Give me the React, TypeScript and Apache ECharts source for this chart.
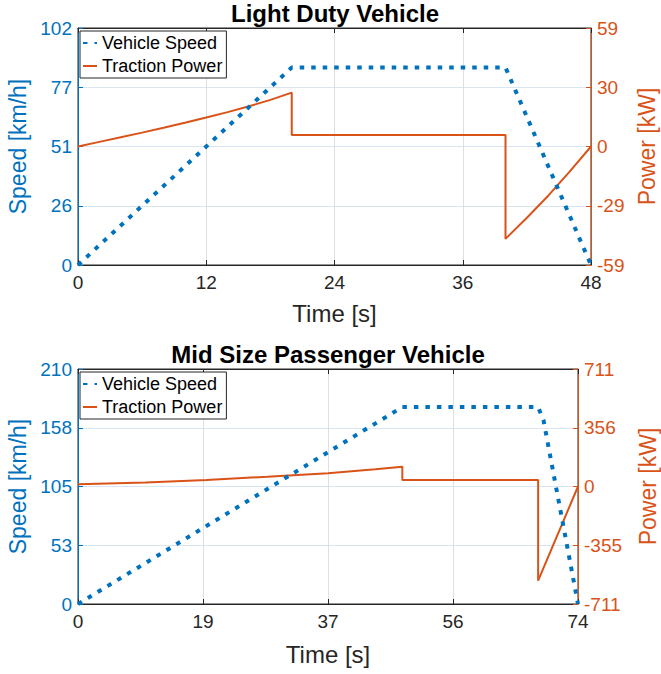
import React, { useEffect, useRef } from "react";
import * as echarts from "echarts";

// ---- Light Duty Vehicle ----
const ldSpeedTime = [0, 20, 40, 48];
const ldSpeedKmh = [0, 85, 85, 0];
const ldPowerTime = [0, 2, 4, 6, 8, 10, 12, 14, 16, 18, 20, 20, 40, 40, 42, 44, 46, 48];
const ldPowerKw = [0, 2.3, 4.6, 6.9, 9.3, 11.8, 14.4, 17.1, 20.0, 23.2, 26.8, 5.7, 5.7, -46, -35.5, -24.5, -12.5, 0];
const ldTimeTicks = ["0", "12", "24", "36", "48"];
const ldSpeedTicks = ["0", "26", "51", "77", "102"];
const ldPowerTicks = ["-59", "-29", "0", "30", "59"];

// ---- Mid Size Passenger Vehicle ----
const msSpeedTime = [0, 48, 68.1, 68.9, 74];
const msSpeedKmh = [0, 176, 176, 164, 0];
const msPowerTime = [0, 10, 19, 28, 37, 44, 48, 48, 68.1, 68.1, 74];
const msPowerKw = [13, 24, 39, 59, 80, 104, 120, 40, 40, -570, 0];
const msTimeTicks = ["0", "19", "37", "56", "74"];
const msSpeedTicks = ["0", "53", "105", "158", "210"];
const msPowerTicks = ["-711", "-355", "0", "356", "711"];

const BLUE = "#0072BD";
const ORANGE = "#D95319";
const DARK = "#262626";
const FONT = "'Liberation Sans', Arial, Helvetica, sans-serif";

const pairs = (t: number[], v: number[]) => t.map((x, i) => [x, v[i]]);
const lookup = (ticks: string[], min: number, step: number) => (v: number) =>
  ticks[Math.round((v - min) / step)] ?? "";

export default function App() {
  const ref = useRef<HTMLDivElement>(null);
  useEffect(() => {
    if (!ref.current) return;
    const chart = echarts.init(ref.current, null, { renderer: "svg" });

    const xBottom = (grid: number, max: number, step: number, ticks: string[], gap: number) => ({
      type: "value",
      gridIndex: grid,
      position: "bottom",
      min: 0,
      max,
      interval: step,
      name: "Time [s]",
      nameLocation: "middle",
      nameGap: gap,
      nameTextStyle: { fontSize: 24, color: DARK, fontFamily: FONT },
      axisLine: { show: true, onZero: false, lineStyle: { color: DARK, width: 1 } },
      axisTick: { show: true, inside: true, length: 5, lineStyle: { color: DARK } },
      axisLabel: { fontSize: 19, color: DARK, margin: 8, fontFamily: FONT, formatter: lookup(ticks, 0, step) },
      splitLine: { show: true, lineStyle: { color: "#dfdfdf", width: 1 } },
    });
    const xTop = (grid: number, max: number, step: number) => ({
      type: "value",
      gridIndex: grid,
      position: "top",
      min: 0,
      max,
      interval: step,
      axisLine: { show: true, onZero: false, lineStyle: { color: DARK, width: 1 } },
      axisTick: { show: true, inside: true, length: 5, lineStyle: { color: DARK } },
      axisLabel: { show: false },
      splitLine: { show: false },
    });
    const yLeft = (grid: number, max: number, step: number, ticks: string[], gap: number) => ({
      type: "value",
      gridIndex: grid,
      position: "left",
      min: 0,
      max,
      interval: step,
      name: "Speed [km/h]",
      nameLocation: "middle",
      nameGap: gap,
      nameTextStyle: { fontSize: 23, color: BLUE, fontFamily: FONT },
      axisLine: { show: true, onZero: false, lineStyle: { color: BLUE, width: 1 } },
      axisTick: { show: true, inside: true, length: 5, lineStyle: { color: BLUE } },
      axisLabel: { fontSize: 19, color: BLUE, margin: 6, fontFamily: FONT, formatter: lookup(ticks, 0, step) },
      splitLine: { show: true, lineStyle: { color: "#d9e6f1", width: 1 } },
    });
    const yRight = (grid: number, lim: number, step: number, ticks: string[], gap: number) => ({
      type: "value",
      gridIndex: grid,
      position: "right",
      min: -lim,
      max: lim,
      interval: step,
      name: "Power [kW]",
      nameLocation: "middle",
      nameGap: gap,
      nameTextStyle: { fontSize: 23, color: ORANGE, fontFamily: FONT },
      axisLine: { show: true, onZero: false, lineStyle: { color: ORANGE, width: 1 } },
      axisTick: { show: true, inside: true, length: 5, lineStyle: { color: ORANGE } },
      axisLabel: { fontSize: 19, color: ORANGE, margin: 6, fontFamily: FONT, formatter: lookup(ticks, -lim, step) },
      splitLine: { show: false },
    });

    const speedLine = { color: BLUE, width: 4, type: [4.5, 7], cap: "butt" };
    const powerLine = { color: ORANGE, width: 2 };

    const legend = (top: number) => ({
      orient: "vertical",
      left: 80,
      top,
      itemWidth: 14,
      itemHeight: 10,
      itemGap: 3,
      padding: [2, 4, 2, 2],
      borderColor: DARK,
      borderWidth: 1,
      backgroundColor: "#ffffff",
      selectedMode: false,
      itemStyle: { opacity: 0 },
      textStyle: { fontSize: 18, color: "#000", fontFamily: FONT, lineHeight: 20 },
      data: ["Vehicle Speed", "Traction Power"],
    });

    chart.setOption({
      animation: false,
      backgroundColor: "#ffffff",
      textStyle: { fontFamily: FONT },
      grid: [
        { left: 78, right: 70, top: 28, height: 237, show: true, borderColor: DARK, borderWidth: 1, containLabel: false, outerBoundsMode: "none" },
        { left: 78, right: 83, top: 369, height: 235, show: true, borderColor: DARK, borderWidth: 1, containLabel: false, outerBoundsMode: "none" },
      ],
      xAxis: [
        xBottom(0, 48, 12, ldTimeTicks, 36),
        xTop(0, 48, 12),
        xBottom(1, 74, 18.5, msTimeTicks, 38),
        xTop(1, 74, 18.5),
      ],
      yAxis: [
        yLeft(0, 102, 25.5, ldSpeedTicks, 39),
        yRight(0, 59, 29.5, ldPowerTicks, 41),
        yLeft(1, 210, 52.5, msSpeedTicks, 39),
        yRight(1, 711, 355.5, msPowerTicks, 58),
      ],
      legend: [legend(31), legend(372)],
      graphic: [
        {
          type: "text",
          x: 335,
          y: 13,
          style: { text: "Light Duty Vehicle", fill: "#000", font: `bold 24px ${FONT}`, textAlign: "center", textVerticalAlign: "middle" },
        },
        {
          type: "text",
          x: 328,
          y: 354,
          style: { text: "Mid Size Passenger Vehicle", fill: "#000", font: `bold 24px ${FONT}`, textAlign: "center", textVerticalAlign: "middle" },
        },
      ],
      series: [
        { name: "Vehicle Speed", type: "line", xAxisIndex: 0, yAxisIndex: 0, data: pairs(ldSpeedTime, ldSpeedKmh), symbol: "none", lineStyle: speedLine, itemStyle: { color: BLUE }, z: 3 },
        { name: "Traction Power", type: "line", xAxisIndex: 0, yAxisIndex: 1, data: pairs(ldPowerTime, ldPowerKw), symbol: "none", lineStyle: powerLine, itemStyle: { color: ORANGE }, z: 2 },
        { name: "Vehicle Speed", type: "line", xAxisIndex: 2, yAxisIndex: 2, data: pairs(msSpeedTime, msSpeedKmh), symbol: "none", lineStyle: speedLine, itemStyle: { color: BLUE }, z: 3 },
        { name: "Traction Power", type: "line", xAxisIndex: 2, yAxisIndex: 3, data: pairs(msPowerTime, msPowerKw), symbol: "none", lineStyle: powerLine, itemStyle: { color: ORANGE }, z: 2 },
      ],
    });
    return () => chart.dispose();
  }, []);

  return <div ref={ref} style={{ position: "fixed", left: 0, top: 0, width: 661, height: 674 }} />;
}
